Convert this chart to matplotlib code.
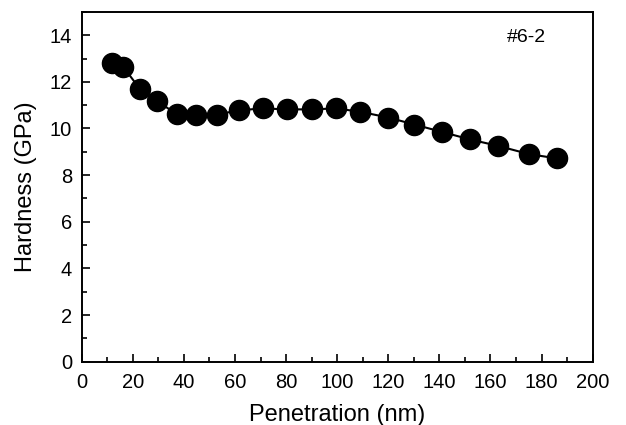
import matplotlib
matplotlib.use("Agg")
import matplotlib.pyplot as plt
from matplotlib.ticker import MultipleLocator

plt.rcParams['font.family'] = ['Liberation Sans', 'DejaVu Sans']

penetration = [12.0, 16.3, 22.8, 29.5, 37.2, 44.7, 52.8, 61.4, 70.8, 80.5, 90.0,
               99.5, 108.9, 120.0, 130.2, 141.1, 152.0, 163.1, 175.1, 185.9]
hardness = [12.79, 12.64, 11.69, 11.17, 10.62, 10.57, 10.59, 10.78, 10.86, 10.82,
            10.82, 10.86, 10.72, 10.47, 10.17, 9.85, 9.53, 9.25, 8.90, 8.72]
x_ticks = [0, 20, 40, 60, 80, 100, 120, 140, 160, 180, 200]
y_ticks = [0, 2, 4, 6, 8, 10, 12, 14]
sample_label = "#6-2"

fig = plt.figure(figsize=(6.26, 4.25), dpi=100)
ax = fig.add_axes([0.1305, 0.149, 0.8163, 0.823])
ax.plot(penetration, hardness, color='black', lw=1.5, marker='o',
        markersize=14.5, markerfacecolor='black', markeredgecolor='black')
ax.set_xlim(0, 200)
ax.set_ylim(0, 15)
ax.set_xticks(x_ticks)
ax.set_yticks(y_ticks)
ax.xaxis.set_minor_locator(MultipleLocator(10))
ax.yaxis.set_minor_locator(MultipleLocator(1))
ax.tick_params(which='both', direction='in', top=False, right=False,
               labelsize=14.5, width=1.2)
ax.tick_params(which='major', length=6)
ax.tick_params(axis='x', which='major', pad=8)
ax.tick_params(axis='y', which='major', pad=7)
ax.tick_params(which='minor', length=3.5)
for s in ax.spines.values():
    s.set_linewidth(1.4)
ax.set_xlabel("Penetration (nm)", fontsize=17, labelpad=9)
ax.set_ylabel("Hardness (GPa)", fontsize=17, labelpad=9)
ax.text(174, 13.9, sample_label, fontsize=14, ha='center', va='center')
fig.savefig("out.png", dpi=100)
